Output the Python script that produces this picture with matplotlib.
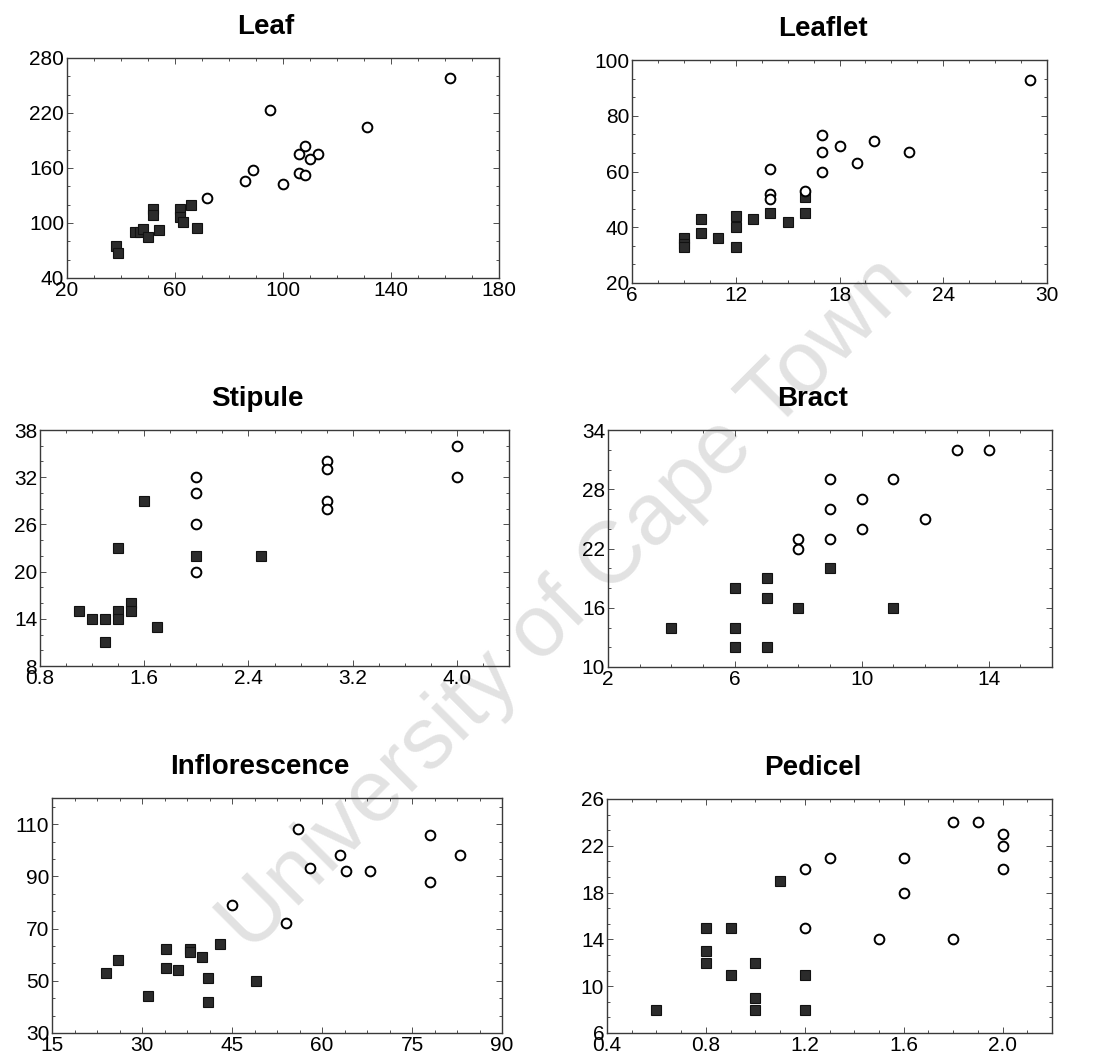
import matplotlib
matplotlib.use("Agg")
import matplotlib.pyplot as plt
from matplotlib.ticker import AutoMinorLocator, FormatStrFormatter

plt.rcParams['font.family'] = ['Liberation Sans', 'DejaVu Sans']

# ---- data ----
leaf_open_x = [162, 95, 131, 108, 106, 113, 110, 106, 108, 89, 86, 100, 72]
leaf_open_y = [258, 223, 205, 184, 175, 175, 170, 154, 152, 158, 146, 142, 127]
leaf_fill_x = [38, 39, 45, 47, 48, 50, 52, 52, 54, 62, 62, 63, 66, 68]
leaf_fill_y = [75, 67, 90, 90, 93, 85, 115, 109, 92, 115, 107, 101, 120, 95]

leaflet_open_x = [29, 17, 17, 17, 18, 19, 20, 22, 14, 14, 14, 16]
leaflet_open_y = [93, 73, 67, 60, 69, 63, 71, 67, 61, 52, 50, 53]
leaflet_fill_x = [9, 9, 9, 10, 10, 11, 12, 12, 12, 13, 14, 15, 16, 16]
leaflet_fill_y = [36, 34, 33, 43, 38, 36, 44, 40, 33, 43, 45, 42, 51, 45]

stipule_open_x = [2.0, 2.0, 2.0, 2.0, 3.0, 3.0, 3.0, 3.0, 4.0, 4.0]
stipule_open_y = [32, 30, 26, 20, 34, 33, 29, 28, 36, 32]
stipule_fill_x = [1.1, 1.2, 1.3, 1.3, 1.4, 1.4, 1.4, 1.5, 1.5, 1.6, 1.7, 2.0, 2.5]
stipule_fill_y = [15, 14, 14, 11, 15, 14, 23, 16, 15, 29, 13, 22, 22]

bract_open_x = [13, 14, 9, 11, 10, 9, 12, 10, 9, 8, 8]
bract_open_y = [32, 32, 29, 29, 27, 26, 25, 24, 23, 23, 22]
bract_fill_x = [4, 6, 6, 6, 7, 7, 7, 8, 9, 11]
bract_fill_y = [14, 18, 14, 12, 19, 17, 12, 16, 20, 16]

infl_open_x = [56, 78, 63, 83, 58, 64, 68, 78, 45, 54]
infl_open_y = [108, 106, 98, 98, 93, 92, 92, 88, 79, 72]
infl_fill_x = [24, 26, 31, 34, 34, 36, 38, 38, 40, 41, 41, 43, 49]
infl_fill_y = [53, 58, 44, 62, 55, 54, 62, 61, 59, 51, 42, 64, 50]

pedicel_open_x = [1.8, 1.9, 2.0, 2.0, 2.0, 1.3, 1.6, 1.2, 1.6, 1.2, 1.5, 1.8]
pedicel_open_y = [24, 24, 23, 22, 20, 21, 21, 20, 18, 15, 14, 14]
pedicel_fill_x = [0.6, 0.8, 0.8, 0.8, 0.9, 0.9, 1.0, 1.0, 1.0, 1.1, 1.2, 1.2]
pedicel_fill_y = [8, 15, 13, 12, 15, 11, 12, 9, 8, 19, 11, 8]

titles = ['Leaf', 'Leaflet', 'Stipule', 'Bract', 'Inflorescence', 'Pedicel']
xticks = [[20, 60, 100, 140, 180], [6, 12, 18, 24, 30], [0.8, 1.6, 2.4, 3.2, 4.0],
          [2, 6, 10, 14], [15, 30, 45, 60, 75, 90], [0.4, 0.8, 1.2, 1.6, 2.0]]
yticks = [[40, 100, 160, 220, 280], [20, 40, 60, 80, 100], [8, 14, 20, 26, 32, 38],
          [10, 16, 22, 28, 34], [30, 50, 70, 90, 110], [6, 10, 14, 18, 22, 26]]

W, H = 1093, 1061
fig = plt.figure(figsize=(W / 100, H / 100), dpi=100)

# (left, top, right, bottom) in pixels, axis limits, tick format
panels = [
    ((67, 58, 499, 278), (20, 180), (40, 280), '%g', leaf_open_x, leaf_open_y, leaf_fill_x, leaf_fill_y),
    ((632, 60, 1047, 283), (6, 30), (20, 100), '%g', leaflet_open_x, leaflet_open_y, leaflet_fill_x, leaflet_fill_y),
    ((40, 430, 509, 666), (0.8, 4.4), (8, 38), '%.1f', stipule_open_x, stipule_open_y, stipule_fill_x, stipule_fill_y),
    ((608, 430, 1052, 667), (2, 16), (10, 34), '%g', bract_open_x, bract_open_y, bract_fill_x, bract_fill_y),
    ((52, 798, 502, 1033), (15, 90), (30, 120), '%g', infl_open_x, infl_open_y, infl_fill_x, infl_fill_y),
    ((607, 799, 1052, 1033), (0.4, 2.2), (6, 26), '%.1f', pedicel_open_x, pedicel_open_y, pedicel_fill_x, pedicel_fill_y),
]

for i, (box, xl, yl, fmt, ox, oy, fx, fy) in enumerate(panels):
    l, t, r, b = box
    ax = fig.add_axes([l / W, 1 - b / H, (r - l) / W, (b - t) / H])
    ax.set_facecolor('none')
    ax.plot(fx, fy, 's', ms=7, mfc='#2b2b2b', mec='#111111', mew=0.8, ls='none', zorder=3)
    ax.plot(ox, oy, 'o', ms=7, mfc='white', mec='black', mew=1.4, ls='none', zorder=4)
    ax.set_xlim(*xl)
    ax.set_ylim(*yl)
    ax.set_xticks(xticks[i])
    ax.set_yticks(yticks[i])
    ax.xaxis.set_major_formatter(FormatStrFormatter(fmt))
    ax.xaxis.set_minor_locator(AutoMinorLocator(4))
    ax.yaxis.set_minor_locator(AutoMinorLocator(3))
    ax.tick_params(which='both', direction='in', top=True, right=True,
                   width=0.6, color='#333333', labelsize=15)
    ax.tick_params(which='major', length=4)
    ax.tick_params(which='minor', length=2)
    ax.tick_params(axis='y', pad=2)
    ax.tick_params(axis='x', pad=2)
    for s in ax.spines.values():
        s.set_linewidth(1.0)
        s.set_color('#3a3a3a')
    ax.set_title(titles[i], fontsize=20, fontweight='bold', pad=17,
                 x=0.5 - 17 / (r - l))

# scanned watermark
fig.text(567 / W, 1 - 605 / H, 'University of Cape Town', fontsize=63,
         color='#e2e2e2', rotation=45, ha='center', va='center', zorder=-1)

fig.savefig('out.png', dpi=100)
